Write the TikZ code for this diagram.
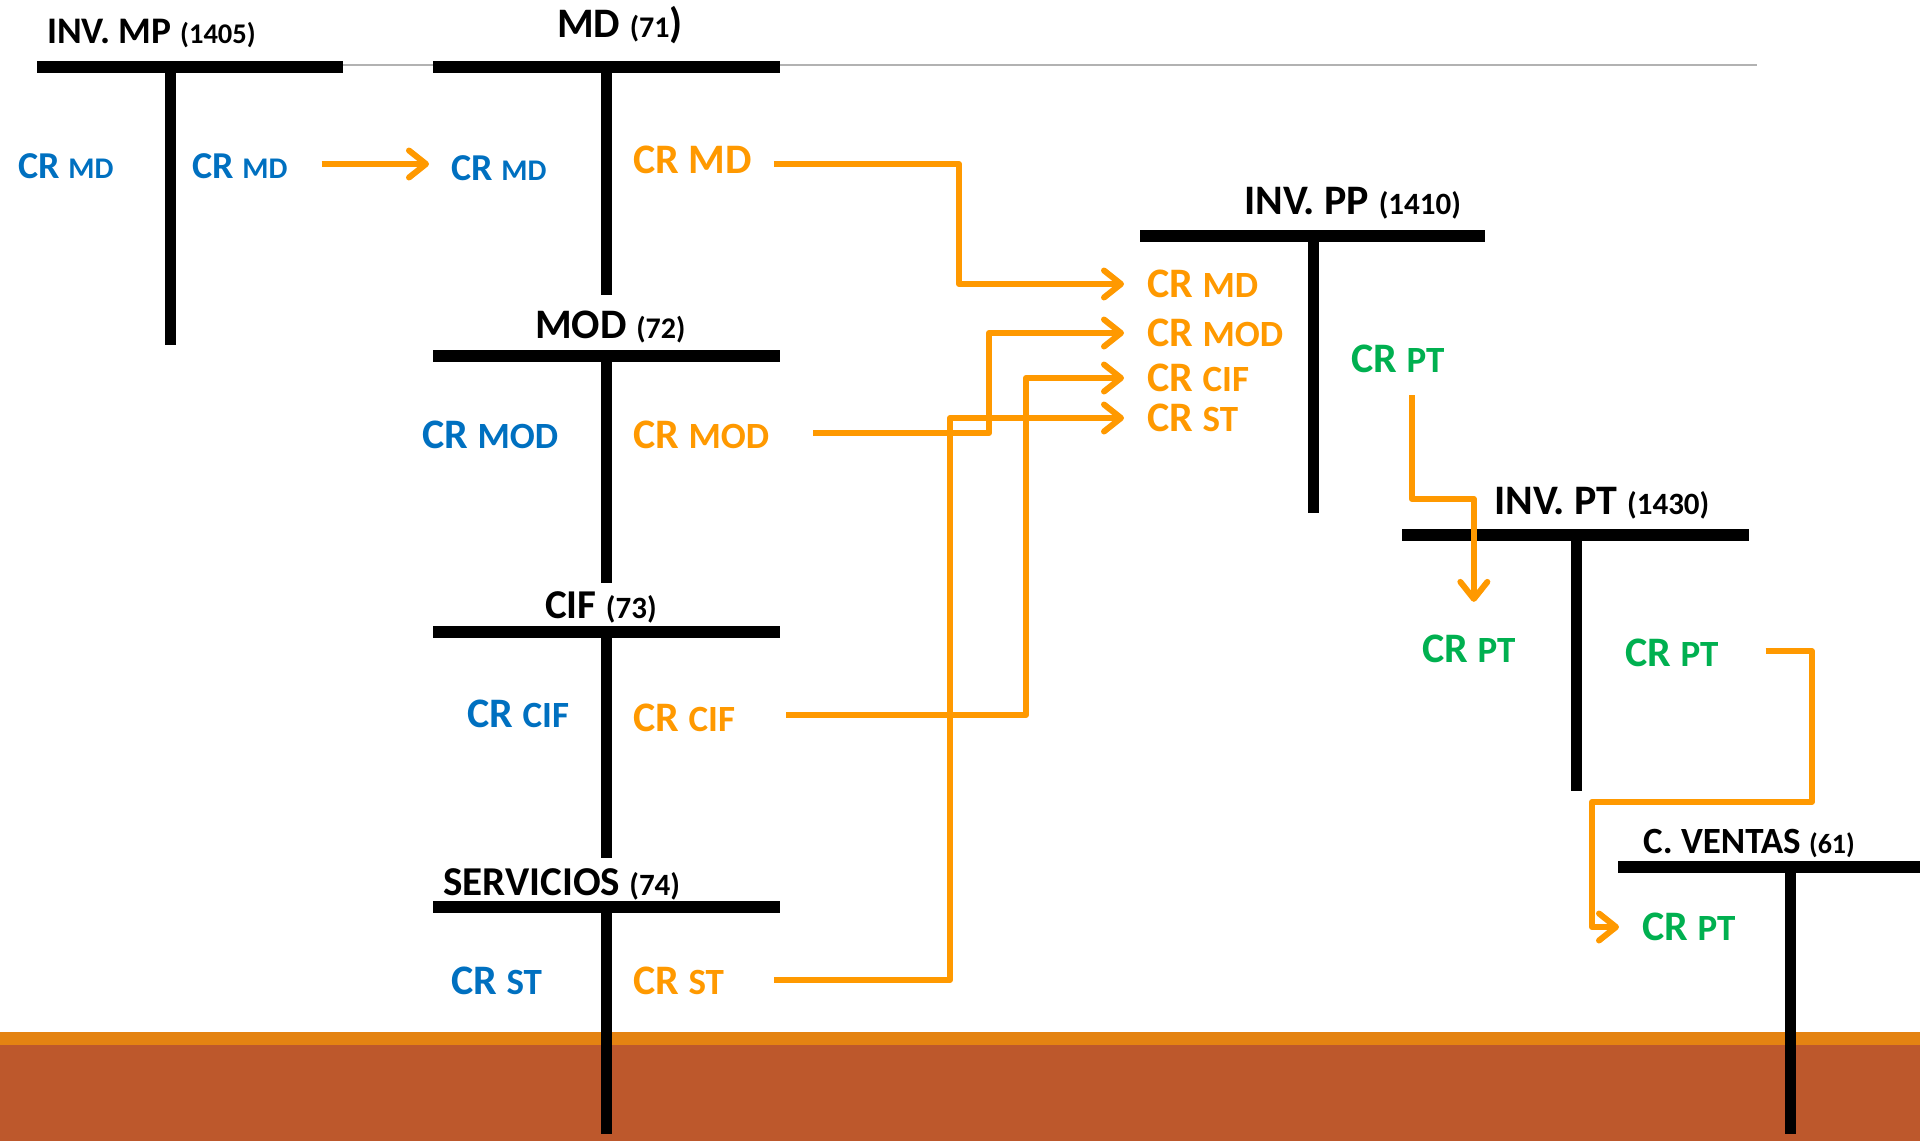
\documentclass[tikz,border=0pt]{standalone}
\usepackage{fontspec}
\setmainfont{Carlito}
\usetikzlibrary{arrows.meta,calc}

\definecolor{crblue}{HTML}{0070C0}
\definecolor{crorange}{HTML}{FF9900}
\definecolor{crgreen}{HTML}{00B050}
\definecolor{bandlight}{HTML}{E48312}
\definecolor{banddark}{HTML}{BD582C}

\newcommand{\fsz}[1]{\fontsize{#1}{#1}\selectfont}
\newcommand{\crtxt}[3]{{\fsz{#1}CR }{\fsz{#2}#3}}
\newcommand{\acct}[4]{{\fsz{#1}#3 }{\fsz{#2}(#4)}}

\begin{document}
\begin{tikzpicture}[x=1pt, y=-1pt,
    tbar/.style={line width=12pt},
    tstem/.style={line width=11pt},
    flow/.style={draw=crorange, line width=6pt, line join=round,
      -{Straight Barb[length=17pt,width=27pt,round]}},
    lbl/.style={anchor=west, inner sep=0pt, font=\bfseries},
    acctname/.style={anchor=base west, inner sep=0pt, font=\bfseries}]
    \useasboundingbox (0,0) rectangle (1920,1141);

    % bottom band and top rule
    \fill[banddark] (0,1032) rectangle (1920,1141);
    \fill[bandlight] (0,1032) rectangle (1920,1045);
    \draw[gray!60, line width=1.5pt] (37,65) -- (1757,65);

    % T accounts
    \foreach \l/\r/\y/\c/\b in {37/343/67/170/345, 433/780/67/606/295,
        433/780/356/606/583, 433/780/632/606/858, 433/780/907/606/1134,
        1140/1485/236/1313/513, 1402/1749/535/1576/791, 1618/1920/867/1790/1134} {
        \draw[tbar] (\l,\y) -- (\r,\y);
        \draw[tstem] (\c,\y) -- (\c,\b);
    }

    \node[acctname] (invmp) at (47,43) {\acct{37.5}{28.5}{INV. MP}{1405}};
    \node[acctname] (md) at (557,37) {{\fsz{42}MD }{\fsz{30}(71}{\fsz{42})}};
    \node[acctname] (mod) at (535,338) {\acct{42}{30}{MOD}{72}};
    \node[acctname] (cif) at (545,618) {\acct{41}{31}{CIF}{73}};
    \node[acctname] (serv) at (443,895) {\acct{41}{31}{SERVICIOS}{74}};
    \node[acctname] (invpp) at (1244,214) {\acct{42}{31}{INV. PP}{1410}};
    \node[acctname] (invpt) at (1494,514) {\acct{42}{31}{INV. PT}{1430}};
    \node[acctname] (cventas) at (1643,853) {\acct{37}{28}{C. VENTAS}{61}};

    % entries
    \node[lbl, text=crblue] (bmd1) at (18,166) {\crtxt{38}{30}{MD}};
    \node[lbl, text=crblue] (bmd2) at (192,166) {\crtxt{38}{30}{MD}};
    \node[lbl, text=crblue] (bmd3) at (451,168) {\crtxt{38}{30}{MD}};
    \node[lbl, text=crorange] (omd) at (633,160) {\crtxt{42}{42}{MD}};
    \node[lbl, text=crblue] (bmod) at (422,435) {\crtxt{42}{37}{MOD}};
    \node[lbl, text=crorange] (omod) at (633,435) {\crtxt{42}{37}{MOD}};
    \node[lbl, text=crblue] (bcif) at (467,714) {\crtxt{42}{37}{CIF}};
    \node[lbl, text=crorange] (ocif) at (633,718) {\crtxt{42}{37}{CIF}};
    \node[lbl, text=crblue] (bst) at (451,981) {\crtxt{42}{37}{ST}};
    \node[lbl, text=crorange] (ost) at (633,981) {\crtxt{42}{37}{ST}};

    \node[lbl, text=crorange] (ppmd) at (1147,284) {\crtxt{42}{37}{MD}};
    \node[lbl, text=crorange] (ppmod) at (1147,333) {\crtxt{42}{37}{MOD}};
    \node[lbl, text=crorange] (ppcif) at (1147,378) {\crtxt{42}{37}{CIF}};
    \node[lbl, text=crorange] (ppst) at (1147,418) {\crtxt{42}{37}{ST}};
    \node[lbl, text=crgreen] (pppt) at (1351,359) {\crtxt{42}{37}{PT}};

    \node[lbl, text=crgreen] (ptin) at (1422,649) {\crtxt{42}{37}{PT}};
    \node[lbl, text=crgreen] (ptout) at (1625,653) {\crtxt{42}{37}{PT}};
    \node[lbl, text=crgreen] (cvpt) at (1642,927) {\crtxt{42}{37}{PT}};

    % transfers
    \draw[flow] ($(bmd2.east)+(34,-2)$) -- ($(bmd3.west)+(-22,-4)$);
    \draw[flow] ($(omd.east)+(22,4)$) -| ($(ppmd.west)+(-188,0)$) -- ($(ppmd.west)+(-23,0)$);
    \draw[flow] ($(omod.east)+(44,-2)$) -| ($(ppmod.west)+(-158,0)$) -- ($(ppmod.west)+(-23,0)$);
    \draw[flow] ($(ocif.east)+(51,-3)$) -| ($(ppcif.west)+(-121,0)$) -- ($(ppcif.west)+(-23,0)$);
    \draw[flow] ($(ost.east)+(50,-1)$) -| ($(ppst.west)+(-197,0)$) -- ($(ppst.west)+(-23,0)$);
    \draw[flow] ($(pppt.south)+(14,22)$) |- ($(ptin.north)+(5,-136)$) -- ($(ptin.north)+(5,-33)$);
    \draw[flow] ($(ptout.east)+(47,-2)$) -| ($(ptout.east)+(93,149)$) -| ($(cvpt.west)+(-50,0)$) -- ($(cvpt.west)+(-23,0)$);
\end{tikzpicture}
\end{document}
